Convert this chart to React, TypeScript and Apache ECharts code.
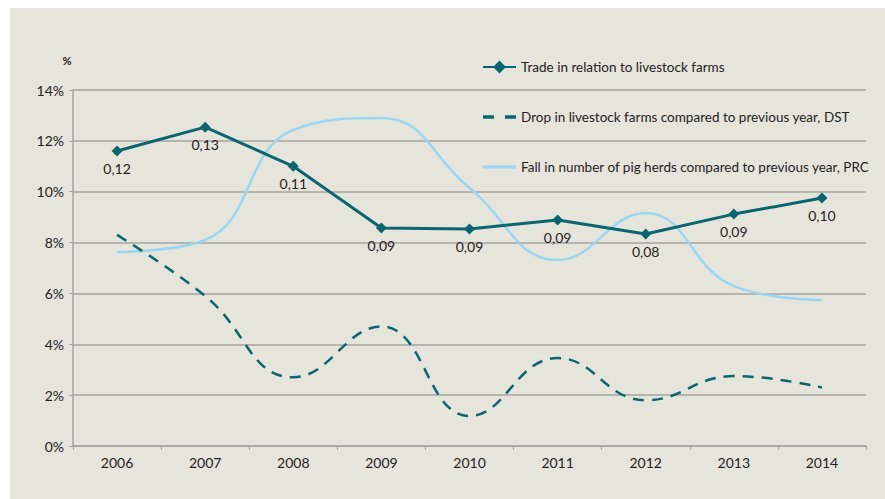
import React, { useEffect, useRef } from "react";
import * as echarts from "echarts";

const years = ["2006", "2007", "2008", "2009", "2010", "2011", "2012", "2013", "2014"];
const tradeValues = [11.6, 12.54, 11.0, 8.57, 8.53, 8.89, 8.34, 9.12, 9.75];
const tradeLabels = ["0,12", "0,13", "0,11", "0,09", "0,09", "0,09", "0,08", "0,09", "0,10"];
const dstValues = [8.3, 5.9, 2.7, 4.7, 1.18, 3.46, 1.8, 2.75, 2.3];
const prcValues = [7.63, 8.1, 12.43, 12.9, 10.15, 7.31, 9.16, 6.29, 5.74];
const seriesNames = [
  "Trade in relation to livestock farms",
  "Drop in livestock farms compared to previous year, DST",
  "Fall in number of pig herds compared to previous year, PRC",
];

const TEAL = "#0b6570";
const LIGHT = "#9ad6f2";
const GRID = "#a5a5a2";
const FONT = "Lato, 'Noto Sans', sans-serif";

export default function App() {
  const ref = useRef<HTMLDivElement>(null);
  useEffect(() => {
    if (!ref.current) return;
    const chart = echarts.init(ref.current, undefined, { renderer: "svg" });
    chart.setOption({
      animation: false,
      backgroundColor: "#e6e5db",
      textStyle: { fontFamily: FONT },
      grid: { left: 63, right: 19, top: 82, bottom: 53 },
      graphic: [
        {
          type: "text",
          x: 57,
          y: 52,
          style: {
            text: "%",
            fontSize: 11,
            fontWeight: "bold",
            fill: "#222",
            fontFamily: FONT,
            align: "center",
            verticalAlign: "middle",
          },
        },
      ],
      legend: {
        orient: "vertical",
        left: 472,
        top: 52,
        padding: 0,
        itemWidth: 33,
        itemHeight: 16,
        itemGap: 36,
        textStyle: { fontSize: 13.5, color: "#222", fontFamily: FONT },
        data: [
          { name: seriesNames[0] },
          { name: seriesNames[1], icon: "path://M0,0H10V3H0Z M20,0H30V3H20Z" },
          { name: seriesNames[2], icon: "path://M0,0H33V3H0Z" },
        ],
      },
      xAxis: {
        type: "category",
        data: years,
        boundaryGap: true,
        axisLine: { lineStyle: { color: GRID, width: 1.5 } },
        axisTick: { show: true, length: 4, lineStyle: { color: GRID } },
        axisLabel: { fontSize: 14, color: "#222", margin: 9, fontFamily: FONT },
      },
      yAxis: {
        type: "value",
        min: 0,
        max: 14,
        interval: 2,
        axisLine: { show: true, lineStyle: { color: GRID, width: 1.5 } },
        axisTick: { show: true, length: 4, lineStyle: { color: GRID } },
        axisLabel: { formatter: "{value}%", fontSize: 14, color: "#222", margin: 9, fontFamily: FONT },
        splitLine: { lineStyle: { color: GRID, width: 1.5 } },
      },
      series: [
        {
          name: seriesNames[0],
          type: "line",
          data: tradeValues,
          z: 4,
          symbol: "diamond",
          symbolSize: 11,
          itemStyle: { color: TEAL },
          lineStyle: { color: TEAL, width: 3 },
          label: {
            show: true,
            position: "bottom",
            distance: 5,
            fontSize: 14,
            color: "#222",
            fontFamily: FONT,
            formatter: (p: any) => tradeLabels[p.dataIndex],
          },
        },
        {
          name: seriesNames[1],
          type: "line",
          data: dstValues,
          smooth: 0.45,
          symbol: "none",
          z: 3,
          itemStyle: { color: TEAL },
          lineStyle: { color: TEAL, width: 2.5, type: [11, 8] },
        },
        {
          name: seriesNames[2],
          type: "line",
          data: prcValues,
          smooth: 0.45,
          symbol: "none",
          z: 2,
          itemStyle: { color: LIGHT },
          lineStyle: { color: LIGHT, width: 2.5 },
        },
      ],
    });
    return () => chart.dispose();
  }, []);
  return (
    <div
      ref={ref}
      style={{ position: "fixed", left: 10, top: 8, width: 875, height: 491 }}
    />
  );
}
